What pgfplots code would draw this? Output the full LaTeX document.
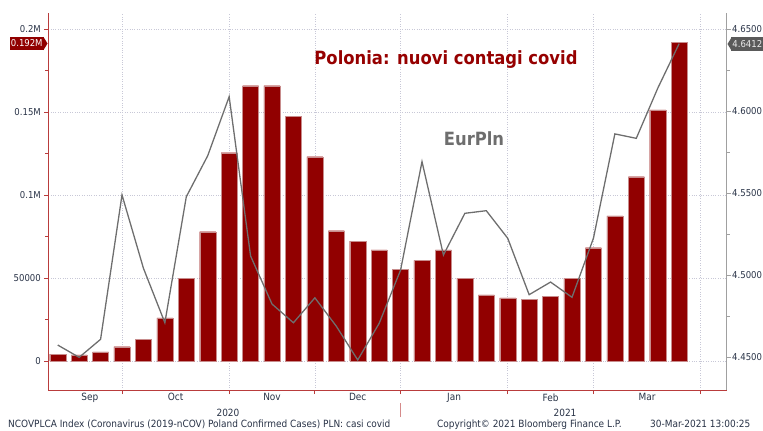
\documentclass[border=0pt]{standalone}
\usepackage{fontspec}
\setmainfont{DejaVu Sans Condensed}
\usepackage{pgfplots}
\pgfplotsset{compat=1.18}
\definecolor{barred}{RGB}{145,0,0}
\definecolor{baredge}{RGB}{200,140,140}
\definecolor{axred}{RGB}{185,60,60}
\definecolor{linegray}{RGB}{110,110,110}
\definecolor{axgray}{RGB}{160,160,160}
\definecolor{gridgray}{RGB}{200,200,215}
\definecolor{ticktext}{RGB}{40,50,70}
\definecolor{titlered}{RGB}{150,0,0}
\definecolor{taggray}{RGB}{90,90,90}
\begin{document}
\begin{tikzpicture}[x=1bp,y=1bp]
\path[use as bounding box] (0,0) rectangle (763,430);
\begin{axis}[
  at={(48.3bp,40bp)}, anchor=south west, scale only axis,
  width=678.4bp, height=377bp,
  xmin=-0.44, xmax=31.22, ymin=-17486, ymax=209828,
  axis x line*=bottom, axis y line*=left,
  axis line style={axred, line width=0.9pt},
  tick style={axred, line width=0.9pt},
  tick align=outside, major tick length=4bp, minor tick length=3bp,
  xtick={3,8,12,16,21,25,30}, xticklabels={},
  extra x ticks={1.5,5.5,10,14,18.5,23,27.5},
  extra x tick labels={Sep,Oct,Nov,Dec,Jan,Feb,Mar},
  extra x tick style={major tick length=0pt, grid=none,
    xticklabel style={font=\fontsize{10}{11}\selectfont, text=ticktext, yshift=0bp}},
  ytick={0,50000,100000,150000,200000},
  yticklabels={0,50000,0.1M,0.15M,0.2M},
  minor ytick={25000,75000,125000,175000},
  yticklabel style={font=\fontsize{9.5}{11}\selectfont, text=ticktext},
  scaled y ticks=false,
  grid=major, major grid style={dotted, gridgray, line width=0.5pt},
  clip=false,
]
\addplot[ybar, bar width=0.75, fill=barred, draw=baredge, line width=0.3pt]
coordinates {
(0,4220) (1,3620) (2,5430) (3,8620) (4,13080) (5,25930) (6,50040) (7,77960)
(8,125600) (9,166000) (10,166000) (11,147700) (12,123200) (13,78570) (14,72350)
(15,66930) (16,55470) (17,60720) (18,66930) (19,50040) (20,39800) (21,37990)
(22,37200) (23,39190) (24,50040) (25,68310) (26,87430) (27,111130) (28,151340)
(29,192000)
};
\end{axis}
\begin{axis}[
  at={(48.3bp,40bp)}, anchor=south west, scale only axis,
  width=678.4bp, height=377bp,
  xmin=-0.44, xmax=31.22, ymin=4.4301, ymax=4.6599,
  axis x line=none, axis y line*=right,
  axis line style={axgray, line width=0.9pt},
  tick style={axgray, line width=0.9pt},
  tick align=outside, major tick length=4bp, minor tick length=3bp,
  ytick={4.45,4.5,4.55,4.6,4.65},
  yticklabels={4.4500,4.5000,4.5500,4.6000,4.6500},
  minor ytick={4.475,4.525,4.575,4.625},
  yticklabel style={font=\fontsize{9.5}{11}\selectfont, text=ticktext, xshift=-2bp},
  clip=false,
]
\addplot[linegray, line width=1.3pt, mark=none] coordinates {
(0,4.4575) (1,4.4500) (2,4.4610) (3,4.5490) (4,4.5043) (5,4.4711) (6,4.5479)
(7,4.5729) (8,4.6089) (9,4.5118) (10,4.4825) (11,4.4711) (12,4.4863) (13,4.4690)
(14,4.4484) (15,4.4707) (16,4.5032) (17,4.5693) (18,4.5124) (19,4.5378)
(20,4.5394) (21,4.5226) (22,4.4882) (23,4.4959) (24,4.4866) (25,4.5226)
(26,4.5862) (27,4.5835) (28,4.6140) (29,4.6412)
};
\end{axis}
% titles
\node[font=\bfseries\fontsize{18.3}{20}\selectfont, text=titlered] at (446,370) {Polonia: nuovi contagi covid};
\node[font=\bfseries\fontsize{18.3}{20}\selectfont, text=linegray] at (474,291) {EurPln};
% value tags
\node[fill=barred, text=white, font=\fontsize{9.5}{10}\selectfont, inner sep=1.2bp, minimum height=13bp, anchor=east] at (44,386.5) {0.192M};
\fill[barred] (43.5,380) -- (47.5,386.5) -- (43.5,393) -- cycle;
\node[fill=taggray, text=white!85!gray, font=\fontsize{9.5}{10}\selectfont, inner sep=1.2bp, minimum height=13bp, anchor=west] at (731,386) {4.6412};
\fill[taggray] (731.5,379.5) -- (727.5,386) -- (731.5,392.5) -- cycle;
% years
\node[font=\fontsize{10}{11}\selectfont, text=ticktext, anchor=base] at (228,14) {2020};
\node[font=\fontsize{10}{11}\selectfont, text=ticktext, anchor=base] at (565,14) {2021};
\draw[axred!60, line width=0.6pt] (400,13) -- (400,27);
% footer
\node[font=\fontsize{10}{12}\selectfont, text=ticktext, anchor=base west, inner sep=0] at (8,3) {NCOVPLCA Index (Coronavirus (2019-nCOV) Poland Confirmed Cases) PLN: casi covid};
\node[font=\fontsize{10}{12}\selectfont, text=ticktext, anchor=base west, inner sep=0] at (437,3) {Copyright© 2021 Bloomberg Finance L.P.};
\node[font=\fontsize{10}{12}\selectfont, text=ticktext, anchor=base west, inner sep=0] at (650,3) {30-Mar-2021 13:00:25};
\end{tikzpicture}
\end{document}
